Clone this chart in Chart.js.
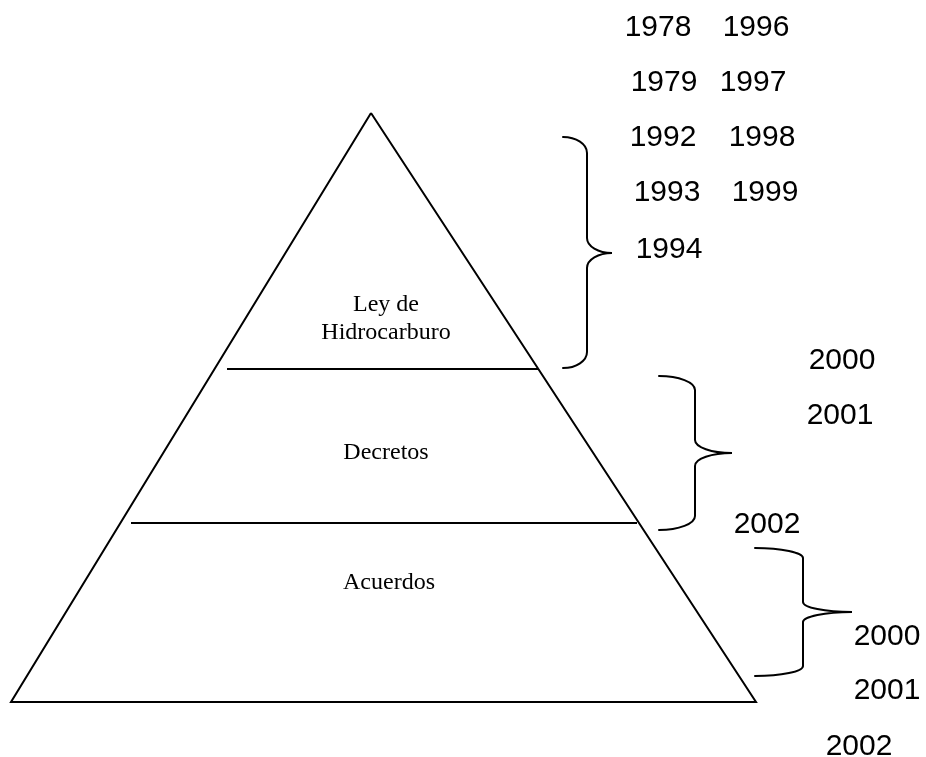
<!DOCTYPE html>
<html>
<head>
<meta charset="utf-8">
<title>Pirámide normativa</title>
<script src="https://cdn.jsdelivr.net/npm/chart.js@4.4.0/dist/chart.umd.min.js"></script>
<style>
    html, body { margin: 0; padding: 0; background: #ffffff; }
    #wrap { width: 926px; height: 757px; }
</style>
</head>
<body>
<div id="wrap"><canvas id="pyramidChart" width="926" height="757"></canvas></div>
<script>
// Pyramid of norms - tiers with the years that belong to each one

// Data
const tierNames = [['Ley de', 'Hidrocarburo'], ['Decretos'], ['Acuerdos']];
const leyYears = ['1978', '1979', '1992', '1993', '1994', '1996', '1997', '1998', '1999'];
const decretoYears = ['2000', '2001', '2002'];
const acuerdoYears = ['2000', '2001', '2002'];

// Layout (diagram units, the axes run 0..926 and 0..757 top-down)
const apex = { x: 371, y: 113 };
const base = { y: 702, left: 11, right: 756 };
const dividers = [
    { y: 369, from: 227, to: 538 },
    { y: 523, from: 131, to: 637 }
];
const tierLabelPos = [[[386, 305], [386, 333]], [[386, 453]], [[389, 583]]];
const leyYearPos = [[658, 28], [664, 83], [663, 138], [667, 193], [669, 250],
                    [756, 28], [753, 83], [762, 138], [765, 193]];
const decretoYearPos = [[842, 361], [840, 416], [767, 525]];
const acuerdoYearPos = [[887, 637], [887, 691], [859, 747]];
const braces = [
    { end: 563, stem: 587, tip: 612, top: 137, mid: 253, bottom: 368, rEnd: 16, rTip: 15 },
    { end: 659, stem: 695, tip: 732, top: 376, mid: 453, bottom: 530, rEnd: 14, rTip: 13 },
    { end: 755, stem: 803, tip: 852, top: 548, mid: 612, bottom: 676, rEnd: 10, rTip: 10 }
];

// Braces and texts drawn through the chart scales
const K = 0.552;
const annotatePlugin = {
    id: 'annotate',
    afterDatasetsDraw(chart) {
        const { ctx, scales } = chart;
        const px = v => scales.x.getPixelForValue(v);
        const py = v => scales.y.getPixelForValue(v);
        const curve = (a, b, c, d, e, f) => ctx.bezierCurveTo(px(a), py(b), px(c), py(d), px(e), py(f));

        ctx.save();
        ctx.strokeStyle = '#000';
        ctx.lineWidth = 2;
        ctx.lineCap = 'round';
        braces.forEach(b => {
            const wEnd = b.stem - b.end;
            const wTip = b.tip - b.stem;
            ctx.beginPath();
            ctx.moveTo(px(b.end), py(b.top));
            curve(b.end + K * wEnd, b.top, b.stem, b.top + (1 - K) * b.rEnd, b.stem, b.top + b.rEnd);
            ctx.lineTo(px(b.stem), py(b.mid - b.rTip));
            curve(b.stem, b.mid - (1 - K) * b.rTip, b.tip - K * wTip, b.mid, b.tip, b.mid);
            curve(b.tip - K * wTip, b.mid, b.stem, b.mid + (1 - K) * b.rTip, b.stem, b.mid + b.rTip);
            ctx.lineTo(px(b.stem), py(b.bottom - b.rEnd));
            curve(b.stem, b.bottom - (1 - K) * b.rEnd, b.end + K * wEnd, b.bottom, b.end, b.bottom);
            ctx.stroke();
        });

        ctx.fillStyle = '#000';
        ctx.textAlign = 'center';
        ctx.textBaseline = 'middle';

        ctx.font = '24px "Liberation Serif", "Times New Roman", serif';
        tierNames.forEach((lines, i) => {
            lines.forEach((line, j) => {
                const [x, y] = tierLabelPos[i][j];
                ctx.fillText(line, px(x), py(y));
            });
        });

        ctx.font = '30px "Liberation Sans", Arial, sans-serif';
        const groups = [[leyYears, leyYearPos], [decretoYears, decretoYearPos], [acuerdoYears, acuerdoYearPos]];
        groups.forEach(([years, pos]) => {
            years.forEach((year, i) => {
                ctx.fillText(year, px(pos[i][0]), py(pos[i][1]));
            });
        });
        ctx.restore();
    }
};

function lineSet(points) {
    return {
        data: points,
        showLine: true,
        borderColor: '#000000',
        borderWidth: 2,
        pointRadius: 0,
        tension: 0,
        fill: false,
        clip: false,
        borderJoinStyle: 'miter'
    };
}

const outline = [
    { x: apex.x, y: apex.y },
    { x: base.right, y: base.y },
    { x: base.left, y: base.y },
    { x: apex.x, y: apex.y }
];

const datasets = [lineSet(outline)].concat(
    dividers.map(d => lineSet([{ x: d.from, y: d.y }, { x: d.to, y: d.y }]))
);

new Chart(document.getElementById('pyramidChart'), {
    type: 'scatter',
    data: { datasets: datasets },
    options: {
        responsive: false,
        animation: false,
        events: [],
        layout: { padding: 0 },
        plugins: {
            legend: { display: false },
            tooltip: { enabled: false }
        },
        scales: {
            x: { type: 'linear', min: 0, max: 926, display: false },
            y: { type: 'linear', min: 0, max: 757, reverse: true, display: false }
        }
    },
    plugins: [annotatePlugin]
});
</script>
</body>
</html>
